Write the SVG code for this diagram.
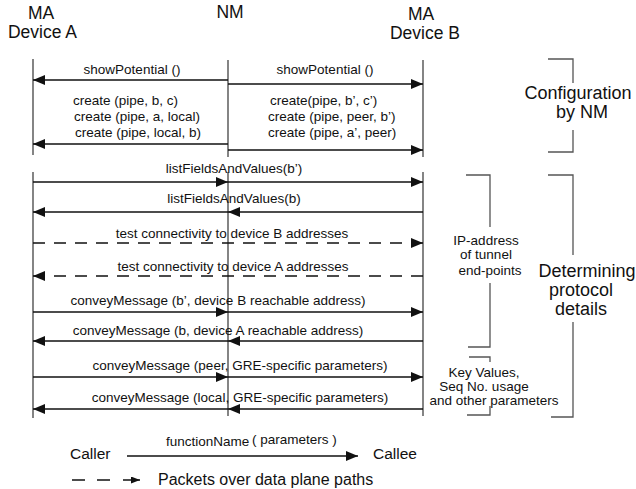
<svg xmlns="http://www.w3.org/2000/svg" width="636" height="489" viewBox="0 0 636 489">
<style>
text{font-family:"Liberation Sans",Arial,sans-serif;fill:#111}
.hd{font-size:17.5px;text-anchor:middle}
.lb{font-size:13.5px}
.mid{text-anchor:middle}
.life{stroke:#333;stroke-width:1.2;fill:none}
.msg{stroke:#111;stroke-width:1.5;fill:none;marker-end:url(#ah)}
.dash{stroke-dasharray:12 9}
.br{stroke:#555;stroke-width:1.3;fill:none}
.big{font-size:18px;text-anchor:middle}
.lg{font-size:15.5px}
</style>
<defs>
<marker id="ah" markerUnits="userSpaceOnUse" markerWidth="13" markerHeight="11" refX="12" refY="5" orient="auto">
<path d="M0,0 L12,5 L0,10 z" fill="#111"/>
</marker>
<marker id="ahs" markerUnits="userSpaceOnUse" markerWidth="10" markerHeight="8" refX="9" refY="3.5" orient="auto">
<path d="M0,0 L9,3.5 L0,7 z" fill="#111"/>
</marker>
</defs>

<g id="deviceA">
<text class="hd" x="41" y="19">MA</text>
<text class="hd" x="42.5" y="38">Device A</text>
<line class="life" x1="33" y1="59" x2="33" y2="155"/>
<line class="life" x1="33" y1="172" x2="33" y2="418"/>
</g>
<g id="nm">
<text class="hd" x="230" y="18">NM</text>
<line class="life" x1="228" y1="60" x2="228" y2="157"/>
<line class="life" x1="228" y1="172" x2="228" y2="416"/>
</g>
<g id="deviceB">
<text class="hd" x="421" y="20">MA</text>
<text class="hd" x="425" y="39">Device B</text>
<line class="life" x1="423" y1="60" x2="423" y2="157"/>
<line class="life" x1="423" y1="172" x2="423" y2="416"/>
</g>

<g id="connectors">
<line class="msg" x1="228" y1="80" x2="33" y2="80"/>
<text class="lb mid" x="132" y="74">showPotential ()</text>
<line class="msg" x1="228" y1="84" x2="423" y2="84"/>
<text class="lb mid" x="325" y="74">showPotential ()</text>

<line class="msg" x1="228" y1="144" x2="33" y2="144"/>
<text class="lb" x="73" y="105">create (pipe, b, c)</text>
<text class="lb" x="74" y="121">create (pipe, a, local)</text>
<text class="lb" x="75" y="137">create (pipe, local, b)</text>
<line class="msg" x1="228" y1="150" x2="423" y2="150"/>
<text class="lb" x="270" y="105">create(pipe, b’, c’)</text>
<text class="lb" x="268" y="121">create (pipe, peer, b’)</text>
<text class="lb" x="268" y="137">create (pipe, a’, peer)</text>

<line class="msg" x1="33" y1="182" x2="228" y2="182"/>
<line class="msg" x1="228" y1="182" x2="423" y2="182"/>
<text class="lb mid" x="234" y="173">listFieldsAndValues(b’)</text>

<line class="msg" x1="423" y1="212" x2="228" y2="212"/>
<line class="msg" x1="228" y1="212" x2="33" y2="212"/>
<text class="lb mid" x="234" y="203">listFieldsAndValues(b)</text>

<line class="msg dash" x1="33" y1="243" x2="423" y2="243"/>
<text class="lb mid" x="232" y="238">test connectivity to device B addresses</text>

<line class="msg dash" x1="423" y1="276" x2="33" y2="276"/>
<text class="lb mid" x="233" y="271">test connectivity to device A addresses</text>

<line class="msg" x1="33" y1="312" x2="228" y2="312"/>
<line class="msg" x1="228" y1="312" x2="423" y2="312"/>
<text class="lb mid" x="218" y="305">conveyMessage (b’, device B reachable address)</text>

<line class="msg" x1="423" y1="341" x2="228" y2="341"/>
<line class="msg" x1="228" y1="341" x2="33" y2="341"/>
<text class="lb mid" x="218" y="335">conveyMessage (b, device A reachable address)</text>

<line class="msg" x1="33" y1="377" x2="228" y2="377"/>
<line class="msg" x1="228" y1="377" x2="423" y2="377"/>
<text class="lb mid" x="240" y="370">conveyMessage (peer, GRE-specific parameters)</text>

<line class="msg" x1="423" y1="409" x2="228" y2="409"/>
<line class="msg" x1="228" y1="409" x2="33" y2="409"/>
<text class="lb mid" x="240" y="402">conveyMessage (local, GRE-specific parameters)</text>
</g>

<g id="config">
<path class="br" d="M548,59 H573 V83 M573,130 V152 H548"/>
<text class="big" x="578" y="99">Configuration</text>
<text class="big" x="582" y="118">by NM</text>
</g>

<g id="ipaddr">
<path class="br" d="M466,175 H490 V227 M490,283 V347 H468"/>
<text class="lb mid" x="486" y="245">IP-address</text>
<text class="lb mid" x="486" y="259">of tunnel</text>
<text class="lb mid" x="490" y="275">end-points</text>
</g>

<g id="determining">
<path class="br" d="M548,175 H573 V255 M573,322 V417 H551"/>
<text class="big" x="587" y="277">Determining</text>
<text class="big" x="581" y="296">protocol</text>
<text class="big" x="581" y="315">details</text>
</g>

<g id="keyvalues">
<path class="br" d="M469,357 H490 V362 M490,406 V415 H467"/>
<text class="lb mid" x="484" y="377">Key Values,</text>
<text class="lb mid" x="484" y="391">Seq No. usage</text>
<text class="lb mid" x="494" y="405">and other parameters</text>
</g>

<g id="legend">
<text class="lg" x="70" y="459">Caller</text>
<line class="msg" x1="127" y1="456" x2="358" y2="456"/>
<text class="lb" x="166" y="446">functionName</text>
<text class="lb" x="252" y="444">( parameters )</text>
<text class="lg" x="373" y="459">Callee</text>
<line stroke="#111" stroke-width="1.5" x1="72" y1="480" x2="85" y2="480"/>
<line stroke="#111" stroke-width="1.5" x1="97" y1="480" x2="110" y2="480"/>
<line stroke="#111" stroke-width="1.5" x1="123" y1="480" x2="140" y2="480" marker-end="url(#ahs)"/>
<text x="158" y="485" style="font-size:16px">Packets over data plane paths</text>
</g>
</svg>
